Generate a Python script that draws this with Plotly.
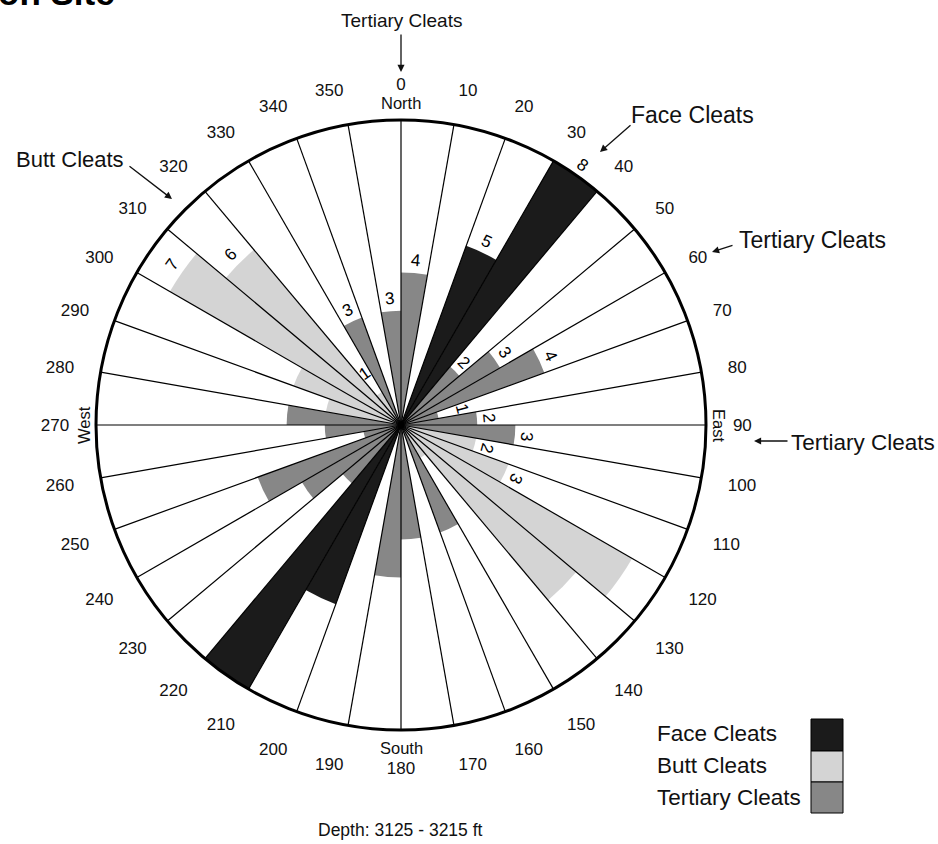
import math
import plotly.graph_objects as go

# 10-degree direction bins (start bearing of each sector, clockwise from north)
bins = list(range(0, 360, 10))

# cleat counts per sector
face_cleats = [0, 0, 5, 8, 0, 0, 0, 0, 0, 0,
               0, 0, 0, 0, 0, 0, 0, 0, 0, 0,
               5, 8, 0, 0, 0, 0, 0, 0, 0, 0,
               0, 0, 0, 0, 0, 0]
butt_cleats = [0, 0, 0, 0, 0, 0, 0, 0, 0, 0,
               2, 3, 7, 6, 1, 0, 0, 0, 0, 0,
               0, 0, 0, 0, 0, 0, 0, 0, 2, 3,
               7, 6, 1, 0, 0, 0]
tertiary_cleats = [4, 0, 0, 0, 2, 3, 4, 1, 2, 3,
                   0, 0, 0, 0, 0, 3, 0, 3, 4, 0,
                   0, 0, 2, 3, 4, 1, 2, 3, 0, 0,
                   0, 0, 0, 3, 0, 3]

# sectors whose count is printed at the bar end
labeled_bins = [0, 20, 30, 40, 50, 60, 70, 80, 90, 100, 110, 300, 310, 320, 330, 350]

angle_ticks = list(range(0, 360, 10))
angle_ticktext = [str(a) for a in angle_ticks]

R_MAX = 8
W, H = 938, 844
FONT = "Arial, Liberation Sans, sans-serif"

COL_FACE = "#1b1b1b"
COL_BUTT = "#d4d4d4"
COL_TERT = "#878787"


def px(x):
    return x / W


def py(y):
    return 1 - y / H


# polar plotting area (square in pixels)
cx, cy, rad = 401, 425, 305
dom_x = [px(cx - rad), px(cx + rad)]
dom_y = [py(cy + rad), py(cy - rad)]

fig = go.Figure()

centers = [b + 5 for b in bins]
for name, vals, col in [("Face Cleats", face_cleats, COL_FACE),
                        ("Butt Cleats", butt_cleats, COL_BUTT),
                        ("Tertiary Cleats", tertiary_cleats, COL_TERT)]:
    fig.add_trace(go.Barpolar(
        r=vals, theta=centers, width=[10] * len(bins), name=name,
        marker=dict(color=col, line=dict(width=0)),
        showlegend=False, hoverinfo="skip",
    ))

# radial spokes on every sector boundary
sp_r, sp_t = [], []
for a in bins:
    sp_r += [0, R_MAX, None]
    sp_t += [a, a, None]
fig.add_trace(go.Scatterpolar(
    r=sp_r, theta=sp_t, mode="lines",
    line=dict(color="black", width=1.2),
    showlegend=False, hoverinfo="skip",
))

# cartesian overlay sharing the polar frame, used to place rotated labels
fig.add_trace(go.Scatter(x=[], y=[], xaxis="x", yaxis="y", showlegend=False))

annotations = []

totals = [f + b + t for f, b, t in zip(face_cleats, butt_cleats, tertiary_cleats)]
for b in labeled_bins:
    v = totals[bins.index(b)]
    c = b + 5
    rl = max(v + 0.32, 1.65)
    th = math.radians(c)
    ang = c if c <= 180 else c - 360
    annotations.append(dict(
        x=rl * math.sin(th), y=rl * math.cos(th), xref="x", yref="y",
        text=str(v), showarrow=False, textangle=ang,
        xanchor="center", yanchor="middle",
        font=dict(family=FONT, size=17, color="black"),
    ))

# compass words just outside the rim
for txt, x, y, ang in [("North", 401, 103, 0), ("South", 401, 748, 0),
                       ("East", 719, 425, 90), ("West", 84, 425, -90)]:
    annotations.append(dict(x=px(x), y=py(y), xref="paper", yref="paper", text=txt,
                            showarrow=False, textangle=ang,
                            xanchor="center", yanchor="middle",
                            font=dict(family=FONT, size=16.5, color="#111")))

# callout texts
for txt, x, y, size in [("Tertiary Cleats", 401, 21, 19),
                        ("Face Cleats", 692, 115, 23),
                        ("Tertiary Cleats", 812, 240, 23),
                        ("Tertiary Cleats", 863, 442, 22.5),
                        ("Butt Cleats", 70, 160, 22)]:
    annotations.append(dict(x=px(x), y=py(y), xref="paper", yref="paper", text=txt,
                            showarrow=False, xanchor="center", yanchor="middle",
                            font=dict(family=FONT, size=size, color="#111")))

# callout arrows (tail -> head)
for (x0, y0), (x1, y1) in [((401, 33), (401, 72)),
                           ((632, 124), (600, 152)),
                           ((734, 245), (712, 252)),
                           ((789, 441), (754, 441)),
                           ((128, 165), (172, 199))]:
    annotations.append(dict(x=px(x1), y=py(y1), xref="paper", yref="paper", text="",
                            showarrow=True, ax=x0 - x1, ay=y0 - y1,
                            arrowhead=2, arrowsize=1.1, arrowwidth=1.3, arrowcolor="#111"))

# legend
for txt, y in [("Face Cleats", 733), ("Butt Cleats", 765), ("Tertiary Cleats", 797)]:
    annotations.append(dict(x=px(655), y=py(y), xref="paper", yref="paper", text=txt,
                            showarrow=False, xanchor="left", yanchor="middle",
                            font=dict(family=FONT, size=22.5, color="#111")))

annotations.append(dict(x=px(400), y=py(830), xref="paper", yref="paper",
                        text="Depth: 3125 - 3215 ft", showarrow=False,
                        xanchor="center", yanchor="middle",
                        font=dict(family=FONT, size=17.5, color="#111")))

annotations.append(dict(x=px(117), y=py(14), xref="paper", yref="paper",
                        text="<b>on Site</b>", showarrow=False, xanchor="right", yanchor="bottom",
                        font=dict(family=FONT, size=35, color="black")))

shapes = []
for col, y0, y1 in [(COL_FACE, 719, 751), (COL_BUTT, 751, 782), (COL_TERT, 782, 813)]:
    shapes.append(dict(type="rect", xref="paper", yref="paper",
                       x0=px(811), x1=px(843), y0=py(y1), y1=py(y0),
                       fillcolor=col, line=dict(color="black", width=1)))

fig.update_layout(
    width=W, height=H,
    margin=dict(l=0, r=0, t=0, b=0),
    paper_bgcolor="white",
    plot_bgcolor="rgba(0,0,0,0)",
    polar=dict(
        domain=dict(x=dom_x, y=dom_y),
        bgcolor="white",
        angularaxis=dict(
            direction="clockwise", rotation=90,
            tickmode="array", tickvals=angle_ticks, ticktext=angle_ticktext,
            ticks="outside", ticklen=22, tickcolor="rgba(0,0,0,0)",
            showgrid=False, showline=True, linecolor="black", linewidth=3,
            tickfont=dict(family=FONT, size=17, color="#111"),
        ),
        radialaxis=dict(visible=False, range=[0, R_MAX], showgrid=False),
    ),
    xaxis=dict(domain=dom_x, range=[-R_MAX, R_MAX], visible=False, fixedrange=True),
    yaxis=dict(domain=dom_y, range=[-R_MAX, R_MAX], visible=False, fixedrange=True),
    annotations=annotations,
    shapes=shapes,
    showlegend=False,
)

fig.write_html("out.html")
